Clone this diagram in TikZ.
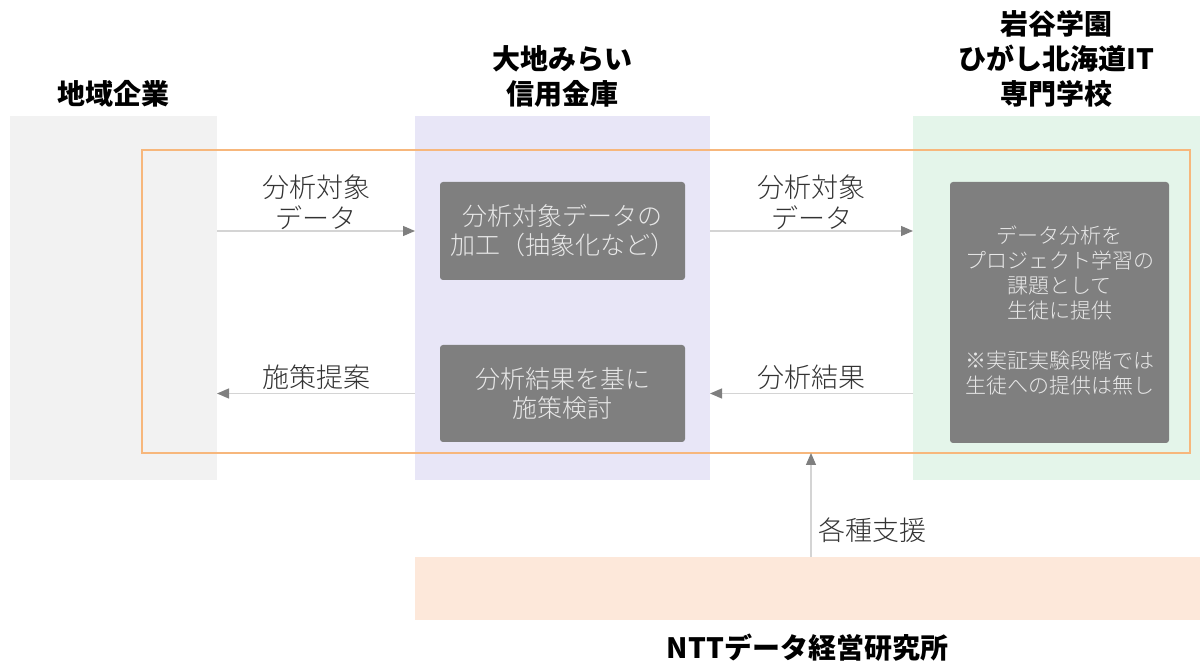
\documentclass[tikz,border=0pt]{standalone}
\usepackage{fontspec}
\setmainfont{Noto Sans CJK JP}
\newfontfamily\lightcjk{Noto Sans CJK JP Light}
\usetikzlibrary{arrows.meta,fit,positioning}

\definecolor{kigyogray}{HTML}{F2F2F2}
\definecolor{kinkolav}{HTML}{E8E6F7}
\definecolor{gakuengreen}{HTML}{E4F5EA}
\definecolor{nttpeach}{HTML}{FDE8DA}
\definecolor{frameorange}{HTML}{F7B77C}
\definecolor{boxgray}{HTML}{7F7F7F}
\definecolor{boxtext}{HTML}{E8E8E8}
\definecolor{flowline}{HTML}{D4D4D4}
\definecolor{tipgray}{HTML}{7F7F7F}
\definecolor{labeltext}{HTML}{333333}

\tikzset{
  panel/.style={inner sep=0pt, outer sep=0pt},
  procbox/.style={fill=boxgray, rounded corners=1.5pt, inner sep=0pt, outer sep=0pt},
  boxtext/.style={text=boxtext, align=center, inner sep=0pt,
    font=\lightcjk\fontsize{12.5}{14.5}\selectfont},
  flowarrow/.style={draw=flowline, line width=0.6pt,
    -{Triangle[color=tipgray, length=6pt, width=5pt]}},
  flowlabel/.style={text=labeltext, align=center, inner sep=1.5pt,
    font=\lightcjk\fontsize{13.5}{15.5}\selectfont},
  orgtitle/.style={align=center, inner sep=2pt, font=\bfseries\fontsize{14}{17.5}\selectfont}
}

\begin{document}
\begin{tikzpicture}[x=0.5pt,y=-0.5pt]
\useasboundingbox (0,0) rectangle (1200,662);

% organisation panels
\node[panel, fill=kigyogray, fit={(10,116) (217,480)}] (kigyo) {};
\node[panel, fill=kinkolav, fit={(415,116) (710,480)}] (kinko) {};
\node[panel, fill=gakuengreen, fit={(913,116) (1200,480)}] (gakuen) {};
\node[panel, fill=nttpeach, fit={(415,557) (1200,620)}] (ntt) {};

\node[panel, draw=frameorange, line width=0.6pt, fit={(142,150) (1190,453)}] (frame) {};

\node[orgtitle, above=2pt of kigyo.north] (kigyotitle) {地域企業};
\node[orgtitle, above=2pt of kinko.north] (kinkotitle) {大地みらい\\信用金庫};
\node[orgtitle, above=2pt of gakuen.north] (gakuentitle) {岩谷学園\\ひがし北海道IT\\専門学校};
\node[orgtitle, below=5pt of ntt.south] (ntttitle) {NTTデータ経営研究所};

% process boxes
\node[procbox, fit={(440,182) (685,280)}] (kako) {};
\node[procbox, fit={(440,345) (685,442)}] (kento) {};
\node[procbox, fit={(950,182) (1169,443)}] (kadai) {};
\node[boxtext] (kakotext) at (kako) {分析対象データの\\加工（抽象化など）};
\node[boxtext] (kentotext) at (kento) {分析結果を基に\\施策検討};
\node[boxtext, yshift=1pt, font=\lightcjk\fontsize{10.5}{12.5}\selectfont] (kadaitext) at (kadai)
  {データ分析を\\プロジェクト学習の\\課題として\\生徒に提供\\[12.5pt]※実証実験段階では\\生徒への提供は無し};

% flows
\draw[flowarrow] (kigyo.east |- kako.west) -- (kinko.west |- kako.west)
  node[midway, above, flowlabel, yshift=-1pt] {分析対象\\データ};
\draw[flowarrow] (kinko.east |- kako.east) -- (gakuen.west |- kako.east)
  node[midway, above, flowlabel, yshift=-1pt] {分析対象\\データ};
\draw[flowarrow] (gakuen.west |- kento.east) -- (kinko.east |- kento.east)
  node[midway, above, flowlabel] {分析結果};
\draw[flowarrow] (kinko.west |- kento.west) -- (kigyo.east |- kento.west)
  node[midway, above, flowlabel] {施策提案};

\coordinate (shien) at (811,0);
\draw[flowarrow] (ntt.north -| shien) -- (frame.south -| shien)
  node[pos=0.26, right, flowlabel, inner sep=3.5pt] {各種支援};

\end{tikzpicture}
\end{document}
